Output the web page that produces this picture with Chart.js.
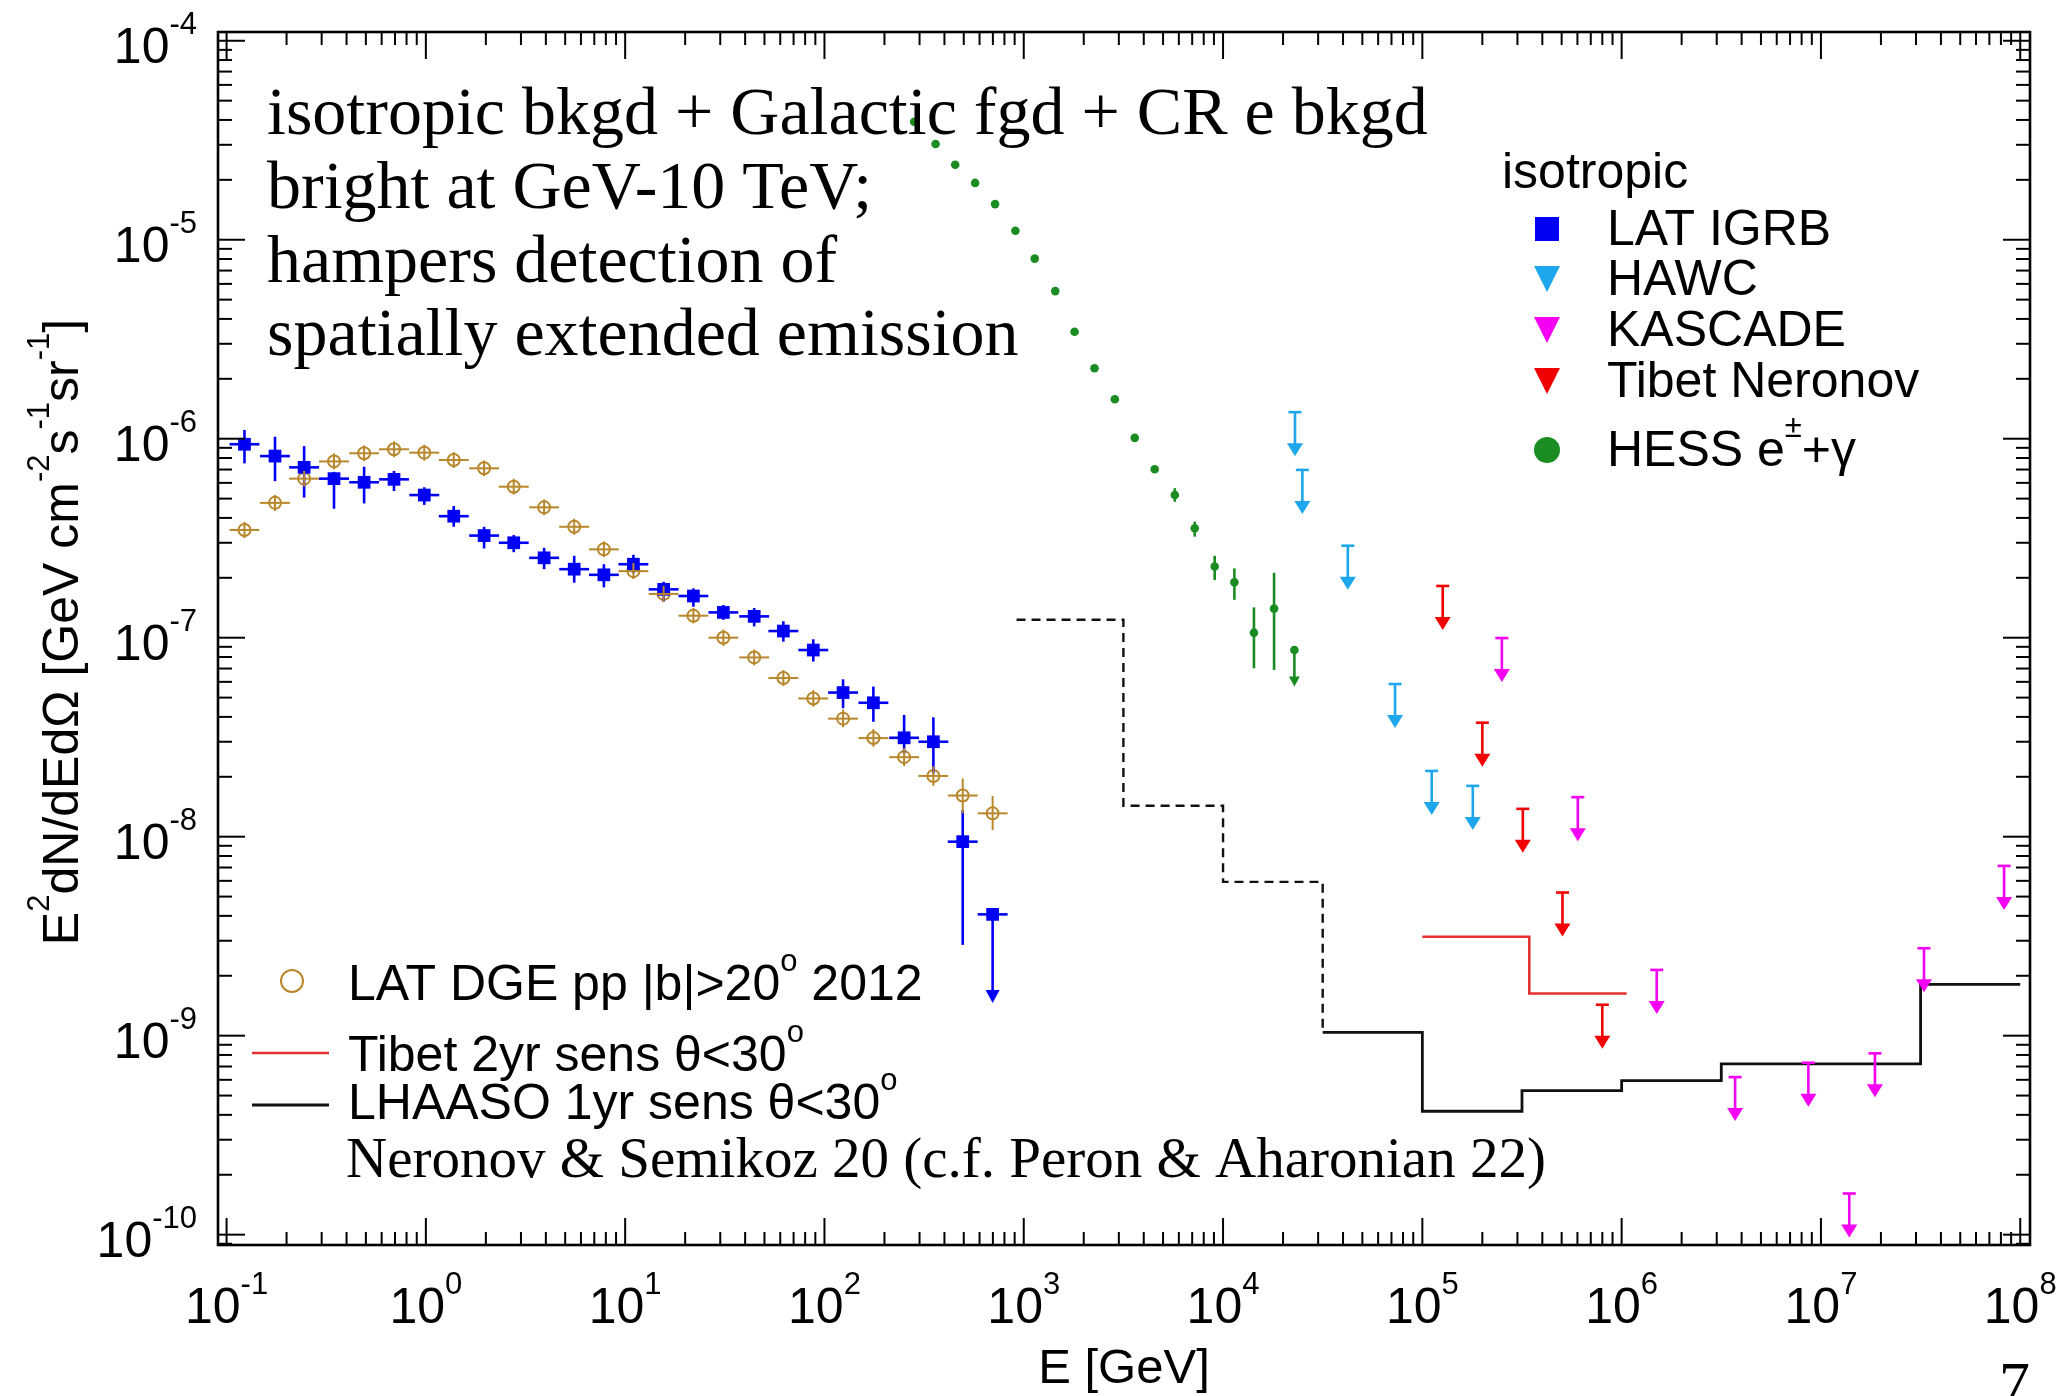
<!DOCTYPE html>
<html>
<head>
<meta charset="utf-8">
<title>Diffuse gamma-ray backgrounds</title>
<script src="https://cdn.jsdelivr.net/npm/chart.js@4.4.1/dist/chart.umd.min.js"></script>
<style>
  html, body { margin: 0; padding: 0; background: #fff; }
  #wrap { width: 2062px; height: 1396px; position: relative; }
</style>
</head>
<body>
<div id="wrap"><canvas id="c" width="2062" height="1396"></canvas></div>
<script>
// energies in GeV, fluxes as E^2 dN/dE dOmega in GeV cm^-2 s^-1 sr^-1

// Fermi-LAT bins (shared by IGRB and DGE points)
const latEnergy = [0.123, 0.175, 0.245, 0.346, 0.490, 0.692, 0.982, 1.38, 1.96, 2.76, 3.92, 5.55, 7.82,
                   11.0, 15.6, 22.0, 31.1, 44.4, 62.2, 87.9, 124, 176, 251, 352, 494, 698];
const latHalfBinDex = 0.075;

const igrbFlux = [9.38e-7, 8.18e-7, 7.18e-7, 6.30e-7, 6.04e-7, 6.25e-7, 5.21e-7, 4.08e-7, 3.26e-7, 3.00e-7,
                  2.52e-7, 2.21e-7, 2.07e-7, 2.34e-7, 1.75e-7, 1.62e-7, 1.34e-7, 1.28e-7, 1.08e-7, 8.67e-8,
                  5.30e-8, 4.71e-8, 3.14e-8, 3.00e-8, 9.44e-9, 4.07e-9];
const igrbHi = [1.107e-6, 1.023e-6, 9.18e-7, 6.82e-7, 7.23e-7, 6.89e-7, 5.70e-7, 4.59e-7, 3.61e-7, 3.28e-7,
                2.83e-7, 2.58e-7, 2.34e-7, 2.61e-7, 1.91e-7, 1.77e-7, 1.46e-7, 1.41e-7, 1.21e-7, 9.82e-8,
                6.18e-8, 5.68e-8, 4.09e-8, 3.98e-8, 1.36e-8, 4.07e-9];
const igrbLo = [7.52e-7, 6.12e-7, 5.06e-7, 4.45e-7, 4.73e-7, 5.46e-7, 4.65e-7, 3.61e-7, 2.81e-7, 2.69e-7,
                2.21e-7, 1.89e-7, 1.79e-7, 2.11e-7, 1.52e-7, 1.43e-7, 1.23e-7, 1.14e-7, 9.55e-8, 7.59e-8,
                4.42e-8, 3.78e-8, 2.62e-8, 2.08e-8, 2.86e-9, 1.46e-9];
const igrbArrows = [25];

const dgeFlux = [3.48e-7, 4.76e-7, 6.30e-7, 7.69e-7, 8.45e-7, 8.85e-7, 8.51e-7, 7.82e-7, 7.10e-7, 5.74e-7,
                 4.52e-7, 3.61e-7, 2.78e-7, 2.16e-7, 1.66e-7, 1.29e-7, 1.00e-7, 7.96e-8, 6.27e-8, 4.95e-8,
                 3.92e-8, 3.13e-8, 2.51e-8, 2.02e-8, 1.61e-8, 1.31e-8];
const dgeHi = [3.82e-7, 5.22e-7, 6.90e-7, 8.43e-7, 9.26e-7, 9.70e-7, 9.33e-7, 8.57e-7, 7.78e-7, 6.29e-7,
               4.95e-7, 3.96e-7, 3.05e-7, 2.37e-7, 1.82e-7, 1.41e-7, 1.10e-7, 8.72e-8, 6.87e-8, 5.45e-8,
               4.35e-8, 3.47e-8, 2.79e-8, 2.26e-8, 1.96e-8, 1.60e-8];
const dgeLo = [3.17e-7, 4.34e-7, 5.75e-7, 7.02e-7, 7.71e-7, 8.07e-7, 7.76e-7, 7.13e-7, 6.48e-7, 5.24e-7,
               4.12e-7, 3.29e-7, 2.54e-7, 1.97e-7, 1.51e-7, 1.18e-7, 9.10e-8, 7.26e-8, 5.72e-8, 4.50e-8,
               3.55e-8, 2.83e-8, 2.26e-8, 1.80e-8, 1.31e-8, 1.08e-8];

// H.E.S.S. electrons + gamma
const hessEnergy = [282, 361, 453, 570, 718, 908, 1135, 1439, 1799, 2265, 2864, 3606, 4539, 5728, 7211,
                    9078, 11400, 14290, 18030, 22800];
const hessFlux = [3.92e-5, 3.03e-5, 2.38e-5, 1.93e-5, 1.51e-5, 1.11e-5, 8.04e-6, 5.52e-6, 3.45e-6, 2.26e-6,
                  1.58e-6, 1.01e-6, 7.02e-7, 5.21e-7, 3.55e-7, 2.28e-7, 1.90e-7, 1.06e-7, 1.40e-7, 8.67e-8];
const hessHi = [null, null, null, null, null, null, null, null, null, null, null, null, null,
                5.64e-7, 3.83e-7, 2.58e-7, 2.23e-7, 1.42e-7, 2.12e-7, 8.67e-8];
const hessLo = [null, null, null, null, null, null, null, null, null, null, null, null, null,
                4.82e-7, 3.22e-7, 1.95e-7, 1.55e-7, 7.02e-8, 6.89e-8, 5.68e-8];
const hessArrows = [19];

// upper limits
const hawcEnergy = [22960, 25000, 42270, 72950, 111400, 179100];
const hawcLimit = [1.36e-6, 6.97e-7, 2.90e-7, 5.85e-8, 2.14e-8, 1.80e-8];
const kascadeEnergy = [2.506e5, 6.026e5, 1.50e6, 3.71e6, 8.65e6, 1.387e7, 1.866e7, 3.289e7, 8.30e7];
const kascadeLimit = [9.96e-8, 1.58e-8, 2.14e-9, 6.19e-10, 7.31e-10, 1.61e-10, 8.15e-10, 2.75e-9, 7.13e-9];
const tibetEnergy = [1.265e5, 2.00e5, 3.192e5, 5.047e5, 7.998e5];
const tibetLimit = [1.82e-7, 3.74e-8, 1.38e-8, 5.24e-9, 1.43e-9];

// sensitivity curves: bin edges and level per bin
const lhaasoEdges = [920, 3162, 1e4, 31623, 1e5, 316228, 1e6, 3162278, 31622777, 1e8];
const lhaasoSens = [1.23e-7, 1.43e-8, 5.93e-9, 1.04e-9, 4.17e-10, 5.30e-10, 5.94e-10, 7.21e-10, 1.81e-9];
const lhaasoDashedBins = 3;
const tibetSensEdges = [1e5, 3.44e5, 1.06e6];
const tibetSensLevel = [3.14e-9, 1.63e-9];

// axes
const xRangeExp = [-1.043, 8.049];
const yRangeExp = [-10.052, -3.956];
const xMajorExp = [-1, 0, 1, 2, 3, 4, 5, 6, 7, 8];
const yMajorExp = [-10, -9, -8, -7, -6, -5, -4];
const minorMult = [2, 3, 4, 5, 6, 7, 8, 9];

const SANS = '"Liberation Sans", Arial, Helvetica, sans-serif';
const SERIF = '"Liberation Serif", "Times New Roman", serif';

const C_DGE = '#b8862b', C_IGRB = '#0000f5', C_HESS = '#1a8c22',
      C_HAWC = '#1ea7ec', C_KASCADE = '#f500f5', C_TIBET = '#f00000', C_TIBETSENS = '#e53030';

const pts = (xs, ys) => xs.map((x, i) => ({ x: x, y: ys[i] }));

// one point per left bin edge, plus the closing right edge
function stepPoints(edges, levels) {
  const out = levels.map((v, i) => ({ x: edges[i], y: v }));
  out.push({ x: edges[levels.length], y: levels[levels.length - 1] });
  return out;
}

const lhaasoAll = stepPoints(lhaasoEdges, lhaasoSens);
const lhaasoDashed = lhaasoAll.slice(0, lhaasoDashedBins).concat([{ x: lhaasoEdges[lhaasoDashedBins], y: lhaasoSens[lhaasoDashedBins] }]);
const lhaasoSolid = lhaasoAll.slice(lhaasoDashedBins);

const datasets = [
  {
    label: 'LAT IGRB', data: pts(latEnergy, igrbFlux),
    pointStyle: 'rect', pointRadius: 9, backgroundColor: C_IGRB, borderColor: C_IGRB, borderWidth: 0,
    bars: { xHalfDex: latHalfBinDex, lo: igrbLo, hi: igrbHi, arrows: igrbArrows, lineWidth: 2.6, headW: 14, headH: 13 }
  },
  {
    label: 'LAT DGE', data: pts(latEnergy, dgeFlux),
    pointStyle: 'circle', pointRadius: 6, backgroundColor: 'rgba(0,0,0,0)', borderColor: C_DGE, borderWidth: 2,
    bars: { xHalfDex: latHalfBinDex, lo: dgeLo, hi: dgeHi, arrows: [], lineWidth: 2 }
  },
  {
    label: 'HESS', data: pts(hessEnergy, hessFlux),
    pointStyle: 'circle', pointRadius: 4.3, backgroundColor: C_HESS, borderColor: C_HESS, borderWidth: 0,
    bars: { lo: hessLo, hi: hessHi, arrows: hessArrows, lineWidth: 2.6, headW: 11, headH: 10 }
  },
  {
    label: 'HAWC', data: pts(hawcEnergy, hawcLimit), pointRadius: 0, borderColor: C_HAWC,
    limit: { len: 44, cap: 13, headW: 16, headH: 13, lineWidth: 2.6 }
  },
  {
    label: 'KASCADE', data: pts(kascadeEnergy, kascadeLimit), pointRadius: 0, borderColor: C_KASCADE,
    limit: { len: 44, cap: 13, headW: 16, headH: 13, lineWidth: 2.6 }
  },
  {
    label: 'Tibet Neronov', data: pts(tibetEnergy, tibetLimit), pointRadius: 0, borderColor: C_TIBET,
    limit: { len: 44, cap: 13, headW: 16, headH: 13, lineWidth: 2.6 }
  },
  {
    label: 'LHAASO dashed', data: lhaasoDashed, showLine: true, stepped: 'before', pointRadius: 0,
    borderColor: '#111', borderWidth: 2.4, borderDash: [9, 6], fill: false
  },
  {
    label: 'LHAASO 1yr', data: lhaasoSolid, showLine: true, stepped: 'before', pointRadius: 0,
    borderColor: '#111', borderWidth: 2.8, fill: false
  },
  {
    label: 'Tibet 2yr', data: stepPoints(tibetSensEdges, tibetSensLevel), showLine: true, stepped: 'before',
    pointRadius: 0, borderColor: C_TIBETSENS, borderWidth: 2.6, fill: false
  }
];

// ---- text helpers: "^{...}" marks a superscript ----
function parseRich(s) {
  const out = [];
  const re = /\^\{([^}]*)\}/g;
  let last = 0, m;
  while ((m = re.exec(s))) {
    if (m.index > last) out.push({ t: s.slice(last, m.index), sup: false });
    out.push({ t: m[1], sup: true });
    last = re.lastIndex;
  }
  if (last < s.length) out.push({ t: s.slice(last), sup: false });
  return out;
}

function richWidth(ctx, parts, size, family) {
  let w = 0;
  parts.forEach(p => {
    ctx.font = (p.sup ? size * 0.62 : size) + 'px ' + family;
    w += ctx.measureText(p.t).width;
  });
  return w;
}

function drawRich(ctx, s, x, y, size, family, align) {
  const parts = parseRich(s);
  const w = richWidth(ctx, parts, size, family);
  let cx = align === 'center' ? x - w / 2 : (align === 'right' ? x - w : x);
  ctx.textAlign = 'left';
  ctx.textBaseline = 'alphabetic';
  parts.forEach(p => {
    const fs = p.sup ? size * 0.62 : size;
    ctx.font = fs + 'px ' + family;
    ctx.fillText(p.t, cx, p.sup ? y - size * 0.58 : y);
    cx += ctx.measureText(p.t).width;
  });
}

function seg(ctx, x0, y0, x1, y1) {
  ctx.beginPath(); ctx.moveTo(x0, y0); ctx.lineTo(x1, y1); ctx.stroke();
}

function headDown(ctx, x, tipY, w, h) {
  ctx.beginPath();
  ctx.moveTo(x - w / 2, tipY - h);
  ctx.lineTo(x + w / 2, tipY - h);
  ctx.lineTo(x, tipY);
  ctx.closePath();
  ctx.fill();
}

// error bars, down arrows and upper-limit symbols
function drawBars(chart) {
  const ctx = chart.ctx, xs = chart.scales.x, ys = chart.scales.y;
  chart.data.datasets.forEach((ds, i) => {
    const meta = chart.getDatasetMeta(i);
    ctx.save();
    ctx.strokeStyle = ds.borderColor;
    ctx.fillStyle = ds.borderColor;
    ctx.lineCap = 'butt';
    if (ds.bars) {
      const b = ds.bars;
      ctx.lineWidth = b.lineWidth;
      meta.data.forEach((el, j) => {
        const e = ds.data[j].x;
        if (b.xHalfDex) {
          const f = Math.pow(10, b.xHalfDex);
          seg(ctx, xs.getPixelForValue(e / f), el.y, xs.getPixelForValue(e * f), el.y);
        }
        if (b.lo[j] != null) {
          const yl = ys.getPixelForValue(b.lo[j]);
          const yh = ys.getPixelForValue(b.hi[j]);
          if (b.arrows.indexOf(j) >= 0) {
            seg(ctx, el.x, yh, el.x, yl - b.headH * 0.6);
            headDown(ctx, el.x, yl, b.headW, b.headH);
          } else {
            seg(ctx, el.x, yh, el.x, yl);
          }
        }
      });
    }
    if (ds.limit) {
      const L = ds.limit;
      ctx.lineWidth = L.lineWidth;
      meta.data.forEach(el => {
        seg(ctx, el.x - L.cap / 2, el.y, el.x + L.cap / 2, el.y);
        seg(ctx, el.x, el.y, el.x, el.y + L.len - L.headH * 0.6);
        headDown(ctx, el.x, el.y + L.len, L.headW, L.headH);
      });
    }
    ctx.restore();
  });
}

// frame with inward ticks on all four sides, plus tick labels
function drawFrame(chart) {
  const ctx = chart.ctx, a = chart.chartArea, xs = chart.scales.x, ys = chart.scales.y;
  ctx.save();
  ctx.strokeStyle = '#000';
  ctx.fillStyle = '#000';
  ctx.lineWidth = 2.6;
  ctx.strokeRect(a.left, a.top, a.right - a.left, a.bottom - a.top);
  ctx.lineWidth = 2;
  const inX = v => v >= Math.pow(10, xRangeExp[0]) && v <= Math.pow(10, xRangeExp[1]);
  const inY = v => v >= Math.pow(10, yRangeExp[0]) && v <= Math.pow(10, yRangeExp[1]);
  const xTick = (v, len) => {
    if (!inX(v)) return;
    const px = xs.getPixelForValue(v);
    seg(ctx, px, a.bottom, px, a.bottom - len);
    seg(ctx, px, a.top, px, a.top + len);
  };
  const yTick = (v, len) => {
    if (!inY(v)) return;
    const py = ys.getPixelForValue(v);
    seg(ctx, a.left, py, a.left + len, py);
    seg(ctx, a.right, py, a.right - len, py);
  };
  for (let k = Math.floor(xRangeExp[0]); k <= Math.ceil(xRangeExp[1]); k++) {
    xTick(Math.pow(10, k), 27);
    minorMult.forEach(m => xTick(m * Math.pow(10, k), 13));
  }
  for (let k = Math.floor(yRangeExp[0]); k <= Math.ceil(yRangeExp[1]); k++) {
    yTick(Math.pow(10, k), 27);
    minorMult.forEach(m => yTick(m * Math.pow(10, k), 14));
  }
  xMajorExp.forEach(k => {
    drawRich(ctx, '10^{' + k + '}', xs.getPixelForValue(Math.pow(10, k)), a.bottom + 78, 50, SANS, 'center');
  });
  yMajorExp.forEach(k => {
    drawRich(ctx, '10^{' + k + '}', a.left - 21, ys.getPixelForValue(Math.pow(10, k)) + 22, 50, SANS, 'right');
  });
  // axis titles
  drawRich(ctx, 'E [GeV]', 1124, 1383, 49, SANS, 'center');
  ctx.translate(78, 632);
  ctx.rotate(-Math.PI / 2);
  drawRich(ctx, 'E^{2}dN/dEd\u03A9 [GeV cm^{-2}s^{-1}sr^{-1}]', 0, 0, 50, SANS, 'center');
  ctx.restore();
}

function drawLegends(chart) {
  const ctx = chart.ctx;
  ctx.save();
  ctx.fillStyle = '#000';
  // right-hand key
  drawRich(ctx, 'isotropic', 1502, 188, 50, SANS, 'left');
  const mx = 1547, tx = 1607;
  const rows = [
    { y: 245, text: 'LAT IGRB', color: C_IGRB, shape: 'square' },
    { y: 295, text: 'HAWC', color: C_HAWC, shape: 'tri' },
    { y: 346, text: 'KASCADE', color: C_KASCADE, shape: 'tri' },
    { y: 397, text: 'Tibet Neronov', color: C_TIBET, shape: 'tri' },
    { y: 466, text: 'HESS e^{\u00B1}+\u03B3', color: C_HESS, shape: 'dot' }
  ];
  rows.forEach(r => {
    const cy = r.y - 16;
    ctx.fillStyle = r.color;
    if (r.shape === 'square') ctx.fillRect(mx - 12, cy - 12, 24, 24);
    else if (r.shape === 'tri') headDown(ctx, mx, cy + 13, 26, 26);
    else { ctx.beginPath(); ctx.arc(mx, cy, 13, 0, Math.PI * 2); ctx.fill(); }
    ctx.fillStyle = '#000';
    drawRich(ctx, r.text, tx, r.y, 50, SANS, 'left');
  });

  // lower-left key
  ctx.strokeStyle = C_DGE;
  ctx.lineWidth = 2;
  ctx.beginPath(); ctx.arc(292, 981, 11, 0, Math.PI * 2); ctx.stroke();
  drawRich(ctx, 'LAT DGE pp |b|>20^{o} 2012', 348, 1000, 50, SANS, 'left');
  ctx.strokeStyle = C_TIBETSENS;
  ctx.lineWidth = 2.6;
  seg(ctx, 252, 1053, 329, 1053);
  drawRich(ctx, 'Tibet 2yr sens \u03B8<30^{o}', 348, 1071, 50, SANS, 'left');
  ctx.strokeStyle = '#111';
  ctx.lineWidth = 2.8;
  seg(ctx, 252, 1105, 329, 1105);
  drawRich(ctx, 'LHAASO 1yr sens \u03B8<30^{o}', 348, 1119, 50, SANS, 'left');
  ctx.restore();
}

function drawNotes(chart) {
  const ctx = chart.ctx;
  ctx.save();
  ctx.fillStyle = '#000';
  ctx.textAlign = 'left';
  ctx.textBaseline = 'alphabetic';
  ctx.font = '68px ' + SERIF;
  ['isotropic bkgd + Galactic fgd + CR e bkgd',
   'bright at GeV-10 TeV;',
   'hampers detection of',
   'spatially extended emission'].forEach((t, i) => ctx.fillText(t, 267, [134, 208, 282, 355][i]));
  ctx.font = '57px ' + SERIF;
  ctx.fillText('Neronov & Semikoz 20 (c.f. Peron & Aharonian 22)', 346, 1177);
  ctx.font = '62px ' + SERIF;
  ctx.fillText('7', 1999, 1404);
  ctx.restore();
}

const rootStyle = {
  id: 'rootStyle',
  beforeDraw(chart) {
    const ctx = chart.ctx;
    ctx.save();
    ctx.fillStyle = '#fff';
    ctx.fillRect(0, 0, chart.width, chart.height);
    ctx.restore();
  },
  afterDatasetsDraw(chart) { drawBars(chart); },
  afterDraw(chart) {
    drawFrame(chart);
    drawLegends(chart);
    drawNotes(chart);
  }
};

new Chart(document.getElementById('c').getContext('2d'), {
  type: 'scatter',
  data: { datasets: datasets },
  options: {
    responsive: false,
    devicePixelRatio: 1,
    animation: false,
    events: [],
    clip: false,
    layout: { padding: { left: 218, top: 32, right: 32, bottom: 151 } },
    plugins: { legend: { display: false }, tooltip: { enabled: false } },
    scales: {
      x: { type: 'logarithmic', display: false, min: Math.pow(10, xRangeExp[0]), max: Math.pow(10, xRangeExp[1]) },
      y: { type: 'logarithmic', display: false, min: Math.pow(10, yRangeExp[0]), max: Math.pow(10, yRangeExp[1]) }
    }
  },
  plugins: [rootStyle]
});
</script>
</body>
</html>
